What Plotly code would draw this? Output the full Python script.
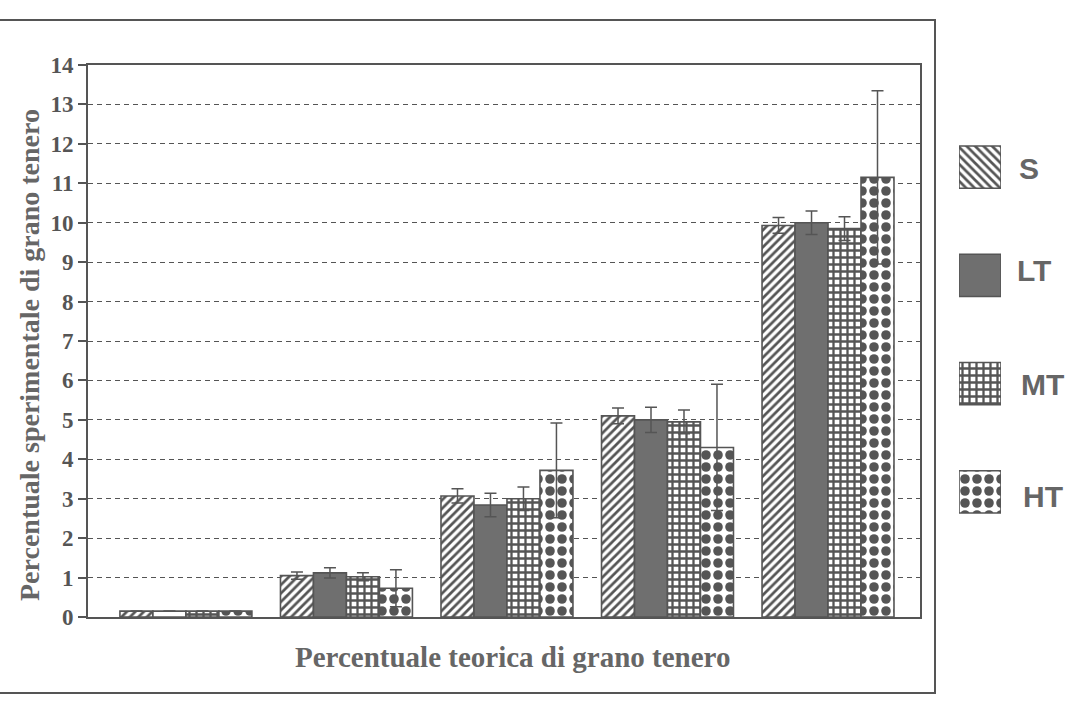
import plotly.graph_objects as go

# Theoretical soft-wheat percentage groups (x axis carries no tick labels)
groups = ["0", "1", "3", "5", "10"]

series_names = ["S", "LT", "MT", "HT"]

s_vals = [0.15, 1.05, 3.07, 5.10, 9.93]
lt_vals = [0.15, 1.12, 2.84, 5.00, 10.00]
mt_vals = [0.15, 1.02, 3.00, 4.95, 9.85]
ht_vals = [0.15, 0.73, 3.72, 4.30, 11.15]

s_err = [None, 0.09, 0.18, 0.20, 0.20]
lt_err = [None, 0.13, 0.30, 0.32, 0.30]
mt_err = [None, 0.10, 0.30, 0.30, 0.30]
ht_err = [None, 0.47, 1.20, 1.60, 2.20]

y_ticks = list(range(0, 15))

INK = "#555555"
GREY = "#6f6f6f"

W, H = 1070, 708
ML, MR, MT_, MB = 88, 0, 65, 91
PW = W - ML - MR          # paper width in px
PH = H - MT_ - MB         # paper height in px
PLOT_R = 920              # right edge of the plotting frame in px


def px_x(x):
    return (x - ML) / PW


def px_y(y):
    return (H - MB - y) / PH


styles = {
    "S": dict(color="white", shape="/", size=6, solidity=0.45),
    "LT": dict(color=GREY, shape="", size=8, solidity=0.3),
    "MT": dict(color="white", shape="+", size=7, solidity=0.55),
    "HT": dict(color="white", shape=".", size=12, solidity=0.5),
}

values = {"S": s_vals, "LT": lt_vals, "MT": mt_vals, "HT": ht_vals}
errors = {"S": s_err, "LT": lt_err, "MT": mt_err, "HT": ht_err}


def bar_marker(st, shape, color=None):
    m = dict(color=st["color"] if color is None else color,
             line=dict(color=INK, width=1.6))
    if shape:
        m["pattern"] = dict(shape=shape, fgcolor=INK, bgcolor="white",
                            size=st["size"], solidity=st["solidity"],
                            fillmode="replace")
    return m


fig = go.Figure()

for name in series_names:
    st = styles[name]
    color = None
    if not st["shape"]:
        # solid series: the near-zero first group is only an outline
        color = ["white"] + [st["color"]] * (len(groups) - 1)
    fig.add_trace(go.Bar(
        x=groups,
        y=values[name],
        name=name,
        showlegend=False,
        marker=bar_marker(st, st["shape"], color),
        error_y=dict(type="data", array=errors[name], symmetric=True,
                     color=INK, thickness=1.5, width=6),
        xaxis="x", yaxis="y",
    ))

# Legend swatches: one horizontal bar per series on its own small axis
legend_shapes = {"S": "\\", "LT": "", "MT": "+", "HT": "."}
for name in series_names:
    st = styles[name]
    fig.add_trace(go.Bar(
        x=[1], y=[name], orientation="h", width=0.39,
        showlegend=False, hoverinfo="skip",
        marker=bar_marker(st, legend_shapes[name]),
        xaxis="x2", yaxis="y2",
    ))

tick_font = dict(family="Liberation Serif", size=23, color=INK, weight="bold")

fig.update_layout(
    width=W, height=H,
    margin=dict(l=ML, r=MR, t=MT_, b=MB, pad=0),
    paper_bgcolor="white",
    plot_bgcolor="white",
    barmode="group",
    bargap=0.178,
    bargroupgap=0,
    showlegend=False,
    xaxis=dict(
        domain=[0, px_x(PLOT_R)],
        type="category",
        range=[-0.61, 4.573],
        showticklabels=False,
        ticks="",
        showgrid=False,
        zeroline=False,
        showline=True, linecolor=INK, linewidth=2, mirror=True,
    ),
    yaxis=dict(
        domain=[0, 1],
        range=[0, 14],
        tickvals=y_ticks,
        ticktext=[str(v) for v in y_ticks],
        tickfont=tick_font,
        ticks="outside", ticklen=8, tickcolor=INK, tickwidth=1.5,
        showgrid=True, gridcolor=INK, gridwidth=1.4, griddash="5px,4px",
        zeroline=False,
        showline=True, linecolor=INK, linewidth=2, mirror=True,
    ),
    xaxis2=dict(
        domain=[px_x(959), px_x(1001)],
        range=[0, 1], anchor="y2",
        visible=False, fixedrange=True,
    ),
    yaxis2=dict(
        domain=[px_y(546), px_y(113)],
        type="category",
        categoryorder="array", categoryarray=series_names[::-1],
        range=[-0.5, 3.5], anchor="x2",
        visible=False, fixedrange=True,
    ),
)

annotations = [
    dict(text="Percentuale sperimentale di grano tenero",
         xref="paper", yref="paper", x=px_x(29), y=px_y(355),
         textangle=-90, showarrow=False, xanchor="center", yanchor="middle",
         font=dict(family="Liberation Serif", size=28, color="#666666",
                   weight="bold")),
    dict(text="Percentuale teorica di grano tenero",
         xref="paper", yref="paper", x=px_x(512), y=px_y(657),
         showarrow=False, xanchor="center", yanchor="middle",
         font=dict(family="Liberation Serif", size=29, color="#666666",
                   weight="bold")),
]

label_pos = {"S": (1017, 169), "LT": (1015, 270), "MT": (1019, 384),
             "HT": (1021, 496)}
for name in series_names:
    lx, ly = label_pos[name]
    annotations.append(dict(
        text=name, xref="paper", yref="paper",
        x=px_x(lx), y=px_y(ly),
        showarrow=False, xanchor="left", yanchor="middle",
        font=dict(family="Liberation Sans", size=30, color="#666666",
                  weight="bold"),
    ))

fig.update_layout(annotations=annotations)

# Outer frame around the whole chart
fig.add_shape(type="rect", xref="paper", yref="paper",
              x0=px_x(-5), x1=px_x(935), y0=px_y(693), y1=px_y(20),
              line=dict(color=INK, width=2), fillcolor="rgba(0,0,0,0)",
              layer="below")

fig.write_html("out.html")
